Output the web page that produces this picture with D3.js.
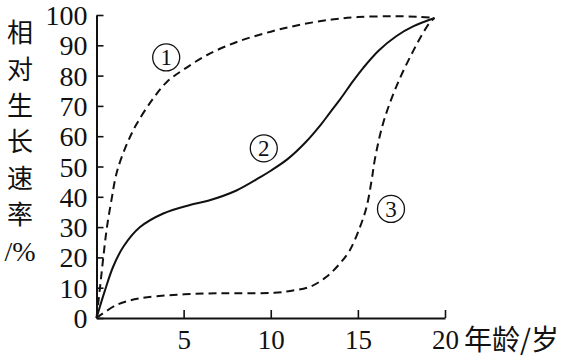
<!DOCTYPE html>
<html>
<head>
<meta charset="utf-8">
<script src="https://cdn.jsdelivr.net/npm/d3@7"></script>
<style>
  body { margin: 0; background: #fff; }
  svg { display: block; }
  .serif { font-family: "Liberation Serif", "DejaVu Serif", Tinos, "Times New Roman", Times, serif; }
  .cjk { font-family: "Noto Sans CJK SC", sans-serif; }
</style>
</head>
<body>
<div id="chart"></div>
<script>
// data: [age, relative growth rate %]
const curve1 = [[0,0],[0.2,10],[0.39,20],[0.6,30],[0.89,40],[1.06,45.5],[1.26,50],[1.75,57.5],[2.3,64],[3.26,72.5],[4.05,78],[5,82],[6.35,86.8],[8.1,91.2],[10,94.5],[11.7,96.8],[13.5,98.5],[15,99.3],[17,99.6],[18.5,99.4],[19.4,99]]
const curve2 = [[0,0],[0.49,9.2],[0.96,17],[1.54,23.5],[2.5,30],[3.83,34.5],[5.36,37.3],[6.4,38.7],[8,42],[9.4,46.5],[10,48.6],[11,52.6],[12,58],[12.9,64],[13.4,67.8],[14,72.3],[14.7,78],[15.3,82.5],[16.2,88.3],[17.2,93],[18.2,96.3],[19.4,99]]
const curve3 = [[0,0],[1.16,4.3],[2.5,6.5],[4.4,7.6],[6.3,8.1],[8,8.2],[10.2,8.3],[11.2,9],[12.25,10.3],[13.2,13.6],[13.97,18],[14.54,22.4],[15.12,30],[15.5,36.7],[15.79,45.5],[15.98,52.5],[16.45,64.3],[17.2,76.3],[18.2,88.4],[19.1,97.3],[19.4,99]]
const seriesLabels = ["1", "2", "3"]
const labelSpots = [[4.0, 86], [9.6, 56], [16.9, 36]]
const yTicks = [0,10,20,30,40,50,60,70,80,90,100]
const xTicks = [5,10,15,20]
const yTitle = ["相","对","生","长","速","率","/%"]
const xTitle = "年龄/岁"

// dimensions
let dimensions = {
  width: 568,
  height: 357,
  margin: { top: 15, right: 123, bottom: 39, left: 96.5 },
}
dimensions.boundedWidth = dimensions.width - dimensions.margin.left - dimensions.margin.right
dimensions.boundedHeight = dimensions.height - dimensions.margin.top - dimensions.margin.bottom

const wrapper = d3.select("#chart")
  .append("svg")
    .attr("width", dimensions.width)
    .attr("height", dimensions.height)

const bounds = wrapper.append("g")
  .attr("transform", `translate(${dimensions.margin.left},${dimensions.margin.top})`)

// scales
const xScale = d3.scaleLinear()
  .domain([0, 20])
  .range([0, dimensions.boundedWidth])

const yScale = d3.scaleLinear()
  .domain([0, 100])
  .range([dimensions.boundedHeight, 0])

// curves
const lineGenerator = d3.line()
  .x(d => xScale(d[0]))
  .y(d => yScale(d[1]))
  .curve(d3.curveCatmullRom.alpha(0.5))

const curves = [
  { data: curve1, dash: "8,5" },
  { data: curve2, dash: null },
  { data: curve3, dash: "8,5" },
]

bounds.selectAll(".curve")
  .data(curves)
  .join("path")
    .attr("class", "curve")
    .attr("d", c => lineGenerator(c.data))
    .attr("fill", "none")
    .attr("stroke", "#111")
    .attr("stroke-width", 2)
    .attr("stroke-dasharray", c => c.dash)

// circled labels
const tags = bounds.selectAll(".tag")
  .data(seriesLabels)
  .join("g")
    .attr("class", "tag")
    .attr("transform", (d, i) => `translate(${xScale(labelSpots[i][0])},${yScale(labelSpots[i][1])})`)

tags.append("circle")
  .attr("r", 13.5)
  .attr("fill", "none")
  .attr("stroke", "#111")
  .attr("stroke-width", 1.3)

tags.append("text")
  .text(d => d)
  .attr("class", "serif")
  .attr("text-anchor", "middle")
  .attr("dy", "0.35em")
  .attr("fill", "#111")
  .style("font-size", "23px")

// axes
const yAxisGenerator = d3.axisLeft(yScale)
  .tickValues(yTicks)
  .tickSizeInner(-7)
  .tickSizeOuter(0)
  .tickPadding(9)

const yAxis = bounds.append("g").call(yAxisGenerator)

const xAxisGenerator = d3.axisBottom(xScale)
  .tickValues(xTicks)
  .tickSizeInner(-8)
  .tickSizeOuter(0)
  .tickPadding(12)

const xAxis = bounds.append("g")
  .attr("transform", `translate(0,${dimensions.boundedHeight})`)
  .call(xAxisGenerator)

;[yAxis, xAxis].forEach(ax => {
  ax.attr("font-family", null).attr("font-size", null)
  ax.select(".domain").attr("stroke", "#111").attr("stroke-width", 2)
  ax.selectAll(".tick line").attr("stroke", "#111").attr("stroke-width", 1.6)
  ax.selectAll(".tick text").attr("class", "serif").attr("fill", "#111")
})
yAxis.selectAll(".tick text").style("font-size", "28px").attr("dy", "0.34em")
xAxis.selectAll(".tick text").style("font-size", "27px")

// titles
wrapper.append("g")
  .selectAll("text")
  .data(yTitle)
  .join("text")
    .text(d => d)
    .attr("class", (d, i) => i == yTitle.length - 1 ? "serif" : "cjk")
    .attr("x", 20)
    .attr("y", (d, i) => 33 + i * 36.3)
    .attr("dy", "0.36em")
    .attr("text-anchor", "middle")
    .attr("fill", "#111")
    .style("font-size", (d, i) => i == yTitle.length - 1 ? "28px" : "26px")

wrapper.append("text")
  .text(xTitle)
  .attr("class", "cjk")
  .attr("x", 464)
  .attr("y", 350)
  .attr("fill", "#111")
  .style("font-size", "28px")
</script>
</body>
</html>
